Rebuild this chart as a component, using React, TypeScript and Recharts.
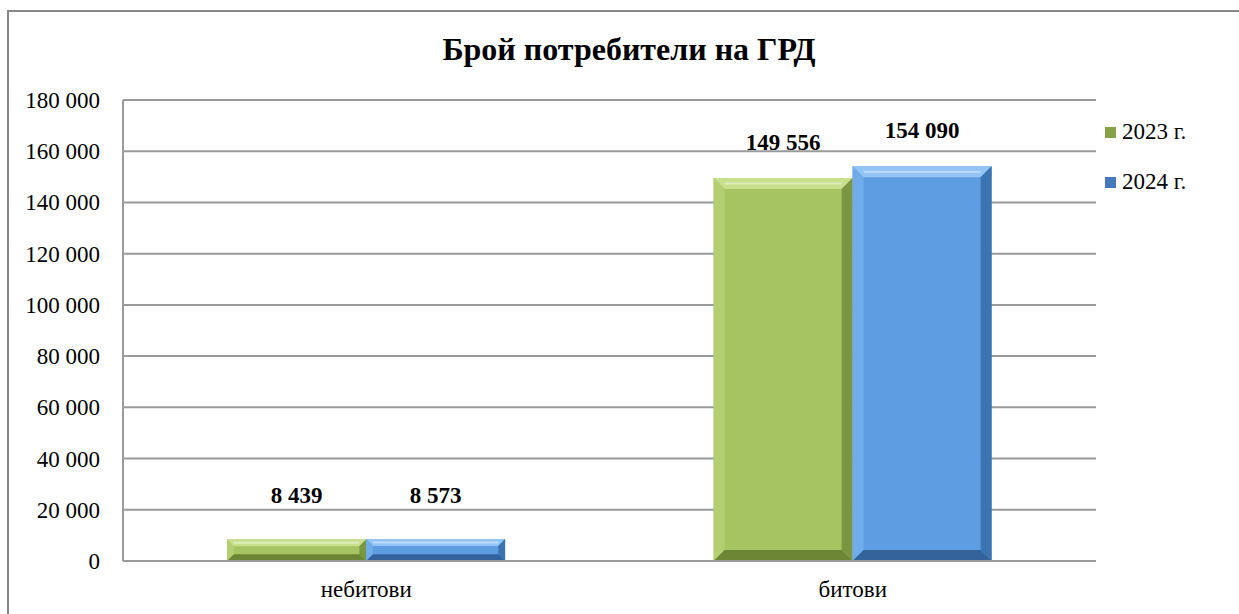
import React from 'react';
import { BarChart, Bar, XAxis, YAxis, CartesianGrid, LabelList } from 'recharts';

const categories = ['небитови', 'битови'];
const values2023 = [8439, 149556];
const values2024 = [8573, 154090];
const seriesNames = ['2023 г.', '2024 г.'];
const yTicks = [0, 20000, 40000, 60000, 80000, 100000, 120000, 140000, 160000, 180000];

const data = categories.map((name, i) => ({ name, y2023: values2023[i], y2024: values2024[i] }));

const FONT = '"Liberation Serif", "Times New Roman", serif';

const palette: Record<string, { face: string; light: string; side: string; dark: string; bottom: string; marker: string }> = {
  y2023: { face: '#a6c462', light: '#c8df8c', side: '#b3cf72', dark: '#7a9640', bottom: '#6c8636', marker: '#86a146' },
  y2024: { face: '#5e9de2', light: '#93c5f4', side: '#70abea', dark: '#3c74b2', bottom: '#33639a', marker: '#4579bb' },
};

const fmt = (v: number) => String(v).replace(/\B(?=(\d{3})+(?!\d))/g, ' ');

const makeBevel = (key: string) => (props: any) => {
  const { x, y, width: w, height: h } = props;
  if (!h || h <= 0) return null;
  const c = palette[key];
  const b = Math.min(11, h / 3.2, w / 6);
  return (
    <g>
      <rect x={x} y={y} width={w} height={h} fill={c.face} />
      <polygon points={`${x},${y} ${x + w},${y} ${x + w - b},${y + b} ${x + b},${y + b}`} fill={c.light} />
      <polygon points={`${x},${y} ${x + b},${y + b} ${x + b},${y + h - b} ${x},${y + h}`} fill={c.side} />
      <polygon points={`${x + w},${y} ${x + w},${y + h} ${x + w - b},${y + h - b} ${x + w - b},${y + b}`} fill={c.dark} />
      <polygon points={`${x},${y + h} ${x + w},${y + h} ${x + w - b},${y + h - b} ${x + b},${y + h - b}`} fill={c.bottom} />
      <line x1={x + b} y1={y + b * 0.5} x2={x + w - b} y2={y + b * 0.5} stroke="#ffffff" strokeOpacity={0.4} strokeWidth={2} />
    </g>
  );
};

const renderLabel = (props: any) => {
  const { x, y, width, height, value } = props;
  const gap = height < 60 ? 36 : 28;
  return (
    <text x={x + width / 2} y={y - gap} textAnchor="middle" fontFamily={FONT} fontSize={23} fontWeight="bold" fill="#000">
      {fmt(value)}
    </text>
  );
};

const YTick = (props: any) => {
  const { x, y, payload } = props;
  return (
    <text x={x} y={y + 8} textAnchor="end" fontFamily={FONT} fontSize={23} fill="#000">
      {fmt(payload.value)}
    </text>
  );
};

const XTick = (props: any) => {
  const { x, y, payload } = props;
  return (
    <text x={x} y={y + 16} textAnchor="middle" fontFamily={FONT} fontSize={23} fill="#000">
      {payload.value}
    </text>
  );
};

const LegendBox = () => (
  <svg width={130} height={100} style={{ display: 'block' }}>
    {['y2023', 'y2024'].map((k, i) => (
      <g key={k}>
        <rect x={0} y={17 + 50 * i} width={11} height={11} fill={palette[k].marker} />
        <text x={17} y={29 + 50 * i} fontFamily={FONT} fontSize={23} fill="#000">
          {seriesNames[i]}
        </text>
      </g>
    ))}
  </svg>
);

export default function App() {
  return (
    <div
      style={{
        position: 'fixed',
        left: 0,
        top: 0,
        width: 1239,
        height: 614,
        overflow: 'hidden',
        background: '#fff',
        fontFamily: FONT,
      }}
    >
      <div
        style={{
          position: 'absolute',
          left: 7,
          top: 10,
          width: 1300,
          height: 700,
          border: '2px solid #878787',
          boxSizing: 'border-box',
        }}
      />
      <div
        style={{
          position: 'absolute',
          left: 0,
          width: 1258,
          top: 31,
          textAlign: 'center',
          fontFamily: FONT,
          fontSize: 32,
          fontWeight: 'bold',
          lineHeight: '36px',
        }}
      >
        Брой потребители на ГРД
      </div>
      <div style={{ position: 'absolute', left: 0, top: 0 }}>
        <BarChart
          width={1239}
          height={614}
          data={data}
          margin={{ top: 100, right: 143, bottom: 0, left: 13 }}
          barCategoryGap="21.4%"
          barGap={0}
        >
          <CartesianGrid vertical={false} stroke="#9a9a9a" strokeWidth={2} />
          <XAxis
            dataKey="name"
            height={53}
            tickLine={false}
            tickSize={0}
            tickMargin={20}
            axisLine={{ stroke: '#9a9a9a', strokeWidth: 2 }}
            tick={<XTick />}
          />
          <YAxis
            width={110}
            domain={[0, 180000]}
            ticks={yTicks}
            tickLine={false}
            tickSize={0}
            tickMargin={23}
            axisLine={{ stroke: '#9a9a9a', strokeWidth: 2 }}
            tick={<YTick />}
          />
          <Bar dataKey="y2023" name={seriesNames[0]} isAnimationActive={false} shape={makeBevel('y2023')}>
            <LabelList dataKey="y2023" content={renderLabel} />
          </Bar>
          <Bar dataKey="y2024" name={seriesNames[1]} isAnimationActive={false} shape={makeBevel('y2024')}>
            <LabelList dataKey="y2024" content={renderLabel} />
          </Bar>
        </BarChart>
      </div>
      <div style={{ position: 'absolute', left: 1105, top: 110 }}>
        <LegendBox />
      </div>
    </div>
  );
}
